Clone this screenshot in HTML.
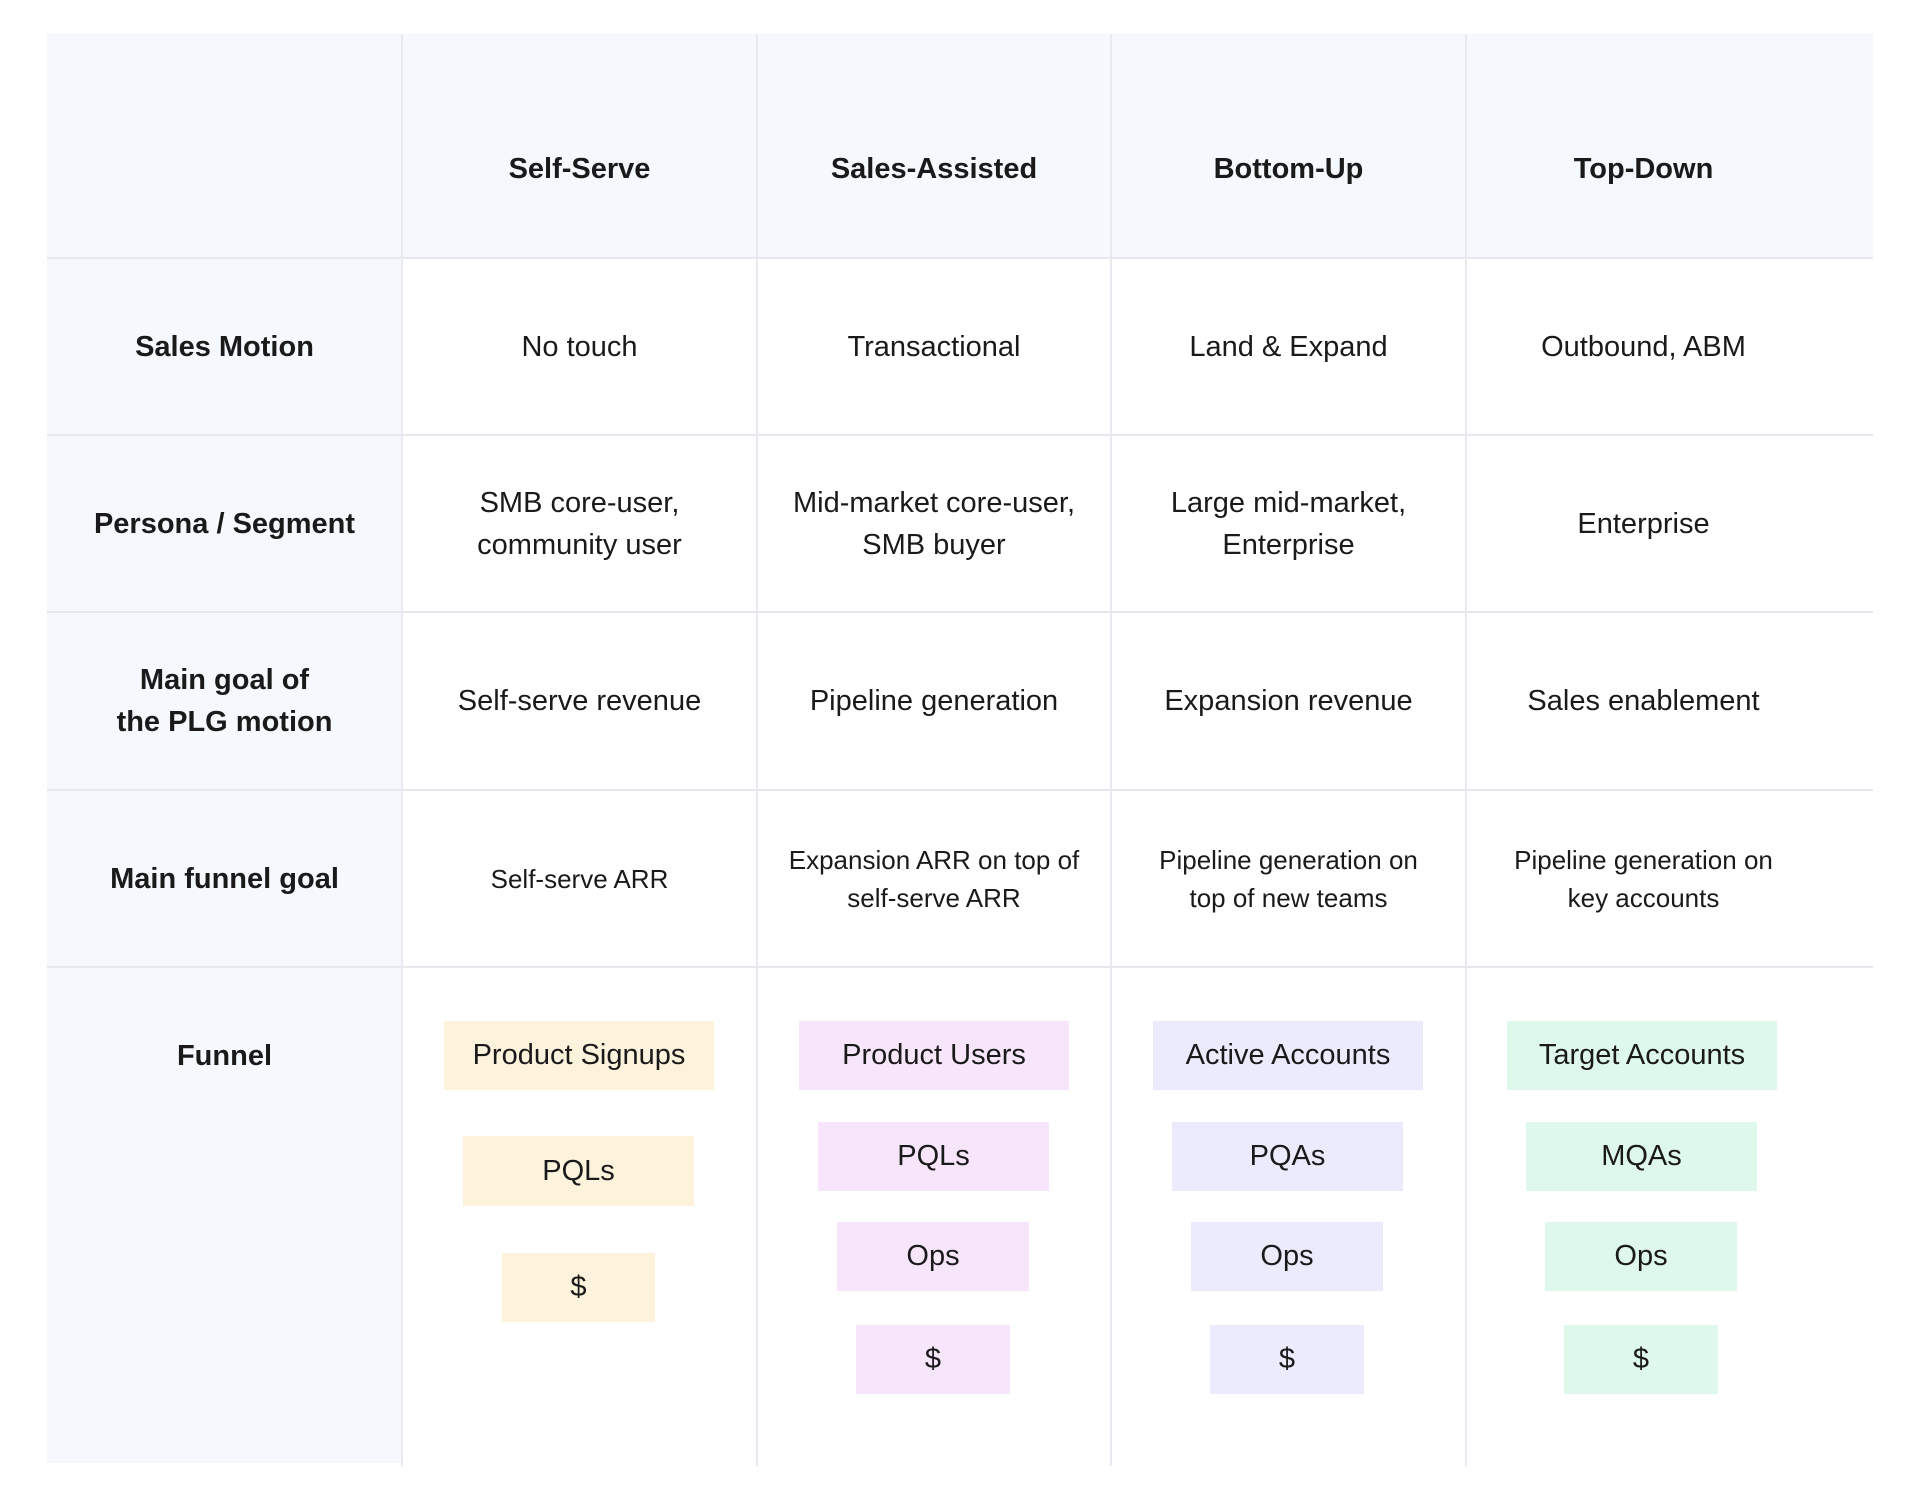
<!DOCTYPE html>
<html><head><meta charset="utf-8">
<style>
html,body{margin:0;padding:0;background:#fff;}
body{width:1920px;height:1504px;position:relative;overflow:hidden;font-family:"Liberation Sans",sans-serif;color:#1a1a1a;}
.c{position:absolute;display:flex;align-items:center;justify-content:center;text-align:center;box-sizing:border-box;font-size:29px;line-height:42px;}
.hd{background:#f5f8fd;}
.b{font-weight:bold;}
.vl{position:absolute;width:2px;background:#e8eaef;}
.hl{position:absolute;height:2px;background:#e6e8ee;left:47px;width:1826px;}
.bx{position:absolute;display:flex;align-items:center;justify-content:center;font-size:29px;}
.y{background:#fdf3dc}.p{background:#f7e6fb}.l{background:#ebebfd}.m{background:#def8ec}
.sm{font-size:26px;line-height:38px;}
</style></head><body>
<div class="c hd" style="left:47px;top:34px;width:1826px;height:224px;"></div>
<div class="c hd" style="left:47px;top:258px;width:355px;height:1205px;"></div>

<div class="c b" style="left:402px;top:34px;width:355px;height:270px;">Self-Serve</div>
<div class="c b" style="left:757px;top:34px;width:354px;height:270px;">Sales-Assisted</div>
<div class="c b" style="left:1111px;top:34px;width:355px;height:270px;">Bottom-Up</div>
<div class="c b" style="left:1466px;top:34px;width:355px;height:270px;">Top-Down</div>

<div class="c b" style="left:47px;top:258px;width:355px;height:177px;">Sales Motion</div>
<div class="c" style="left:402px;top:258px;width:355px;height:177px;">No touch</div>
<div class="c" style="left:757px;top:258px;width:354px;height:177px;">Transactional</div>
<div class="c" style="left:1111px;top:258px;width:355px;height:177px;">Land &amp; Expand</div>
<div class="c" style="left:1466px;top:258px;width:355px;height:177px;">Outbound, ABM</div>

<div class="c b" style="left:47px;top:435px;width:355px;height:177px;">Persona / Segment</div>
<div class="c" style="left:402px;top:435px;width:355px;height:177px;">SMB core-user,<br>community user</div>
<div class="c" style="left:757px;top:435px;width:354px;height:177px;">Mid-market core-user,<br>SMB buyer</div>
<div class="c" style="left:1111px;top:435px;width:355px;height:177px;">Large mid-market,<br>Enterprise</div>
<div class="c" style="left:1466px;top:435px;width:355px;height:177px;">Enterprise</div>

<div class="c b" style="left:47px;top:612px;width:355px;height:178px;">Main goal of<br>the PLG motion</div>
<div class="c" style="left:402px;top:612px;width:355px;height:178px;">Self-serve revenue</div>
<div class="c" style="left:757px;top:612px;width:354px;height:178px;">Pipeline generation</div>
<div class="c" style="left:1111px;top:612px;width:355px;height:178px;">Expansion revenue</div>
<div class="c" style="left:1466px;top:612px;width:355px;height:178px;">Sales enablement</div>

<div class="c b" style="left:47px;top:790px;width:355px;height:177px;">Main funnel goal</div>
<div class="c sm" style="left:402px;top:790px;width:355px;height:177px;">Self-serve ARR</div>
<div class="c sm" style="left:757px;top:790px;width:354px;height:177px;">Expansion ARR on top of<br>self-serve ARR</div>
<div class="c sm" style="left:1111px;top:790px;width:355px;height:177px;">Pipeline generation on<br>top of new teams</div>
<div class="c sm" style="left:1466px;top:790px;width:355px;height:177px;">Pipeline generation on<br>key accounts</div>

<div class="c b" style="left:47px;top:1021px;width:355px;height:69px;">Funnel</div>

<div class="bx y" style="left:444px;top:1021px;width:270px;height:69px;">Product Signups</div>
<div class="bx y" style="left:463px;top:1136px;width:231px;height:70px;">PQLs</div>
<div class="bx y" style="left:502px;top:1253px;width:153px;height:69px;">$</div>

<div class="bx p" style="left:799px;top:1021px;width:270px;height:69px;">Product Users</div>
<div class="bx p" style="left:818px;top:1122px;width:231px;height:69px;">PQLs</div>
<div class="bx p" style="left:837px;top:1222px;width:192px;height:69px;">Ops</div>
<div class="bx p" style="left:856px;top:1325px;width:154px;height:69px;">$</div>

<div class="bx l" style="left:1153px;top:1021px;width:270px;height:69px;">Active Accounts</div>
<div class="bx l" style="left:1172px;top:1122px;width:231px;height:69px;">PQAs</div>
<div class="bx l" style="left:1191px;top:1222px;width:192px;height:69px;">Ops</div>
<div class="bx l" style="left:1210px;top:1325px;width:154px;height:69px;">$</div>

<div class="bx m" style="left:1507px;top:1021px;width:270px;height:69px;">Target Accounts</div>
<div class="bx m" style="left:1526px;top:1122px;width:231px;height:69px;">MQAs</div>
<div class="bx m" style="left:1545px;top:1222px;width:192px;height:69px;">Ops</div>
<div class="bx m" style="left:1564px;top:1325px;width:154px;height:69px;">$</div>

<div class="hl" style="top:257px;"></div>
<div class="hl" style="top:434px;"></div>
<div class="hl" style="top:611px;"></div>
<div class="hl" style="top:789px;"></div>
<div class="hl" style="top:966px;"></div>
<div class="vl" style="left:401px;top:34px;height:1432px;"></div>
<div class="vl" style="left:756px;top:34px;height:1432px;"></div>
<div class="vl" style="left:1110px;top:34px;height:1432px;"></div>
<div class="vl" style="left:1465px;top:34px;height:1432px;"></div>
</body></html>
